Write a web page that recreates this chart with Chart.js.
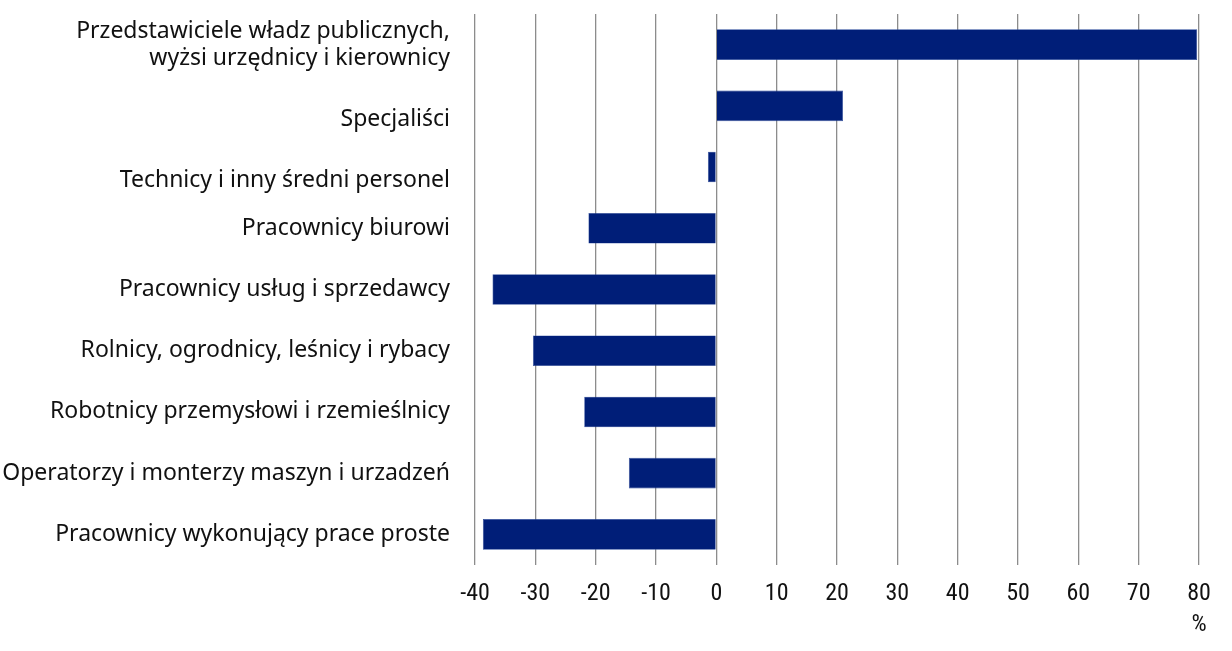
<!DOCTYPE html>
<html lang="pl">
<head>
    <meta charset="UTF-8">
    <title>Zmiana zatrudnienia wg grup zawodów</title>
    <script src="https://cdn.jsdelivr.net/npm/chart.js"></script>
    <style>
        html, body {
            margin: 0;
            padding: 0;
            background: #ffffff;
        }
    </style>
</head>
<body>

<canvas id="occChart" width="1232" height="651"></canvas>

<script>
    // Data
    const categories = [
        ['Przedstawiciele władz publicznych,', 'wyżsi urzędnicy i kierownicy'],
        'Specjaliści',
        'Technicy i inny średni personel',
        'Pracownicy biurowi',
        'Pracownicy usług i sprzedawcy',
        'Rolnicy, ogrodnicy, leśnicy i rybacy',
        'Robotnicy przemysłowi i rzemieślnicy',
        'Operatorzy i monterzy maszyn i urzadzeń',
        'Pracownicy wykonujący prace proste'
    ];
    const changeValues = [79.7, 21.0, -1.4, -21.2, -37.1, -30.4, -21.9, -14.5, -38.7];
    const xMin = -40;
    const xMax = 80;
    const xStep = 10;
    const unitLabel = '%';

    // in the original the 2nd and 3rd labels sit a bit below their bars
    const loweredLabels = [1, 2];

    const ctx = document.getElementById('occChart').getContext('2d');
    const occChart = new Chart(ctx, {
        type: 'bar',
        data: {
            labels: categories,
            datasets: [{
                label: 'Zmiana',
                data: changeValues,
                backgroundColor: '#001e78',
                borderColor: '#2a4a9a',
                borderWidth: 0.6,
                categoryPercentage: 0.5,
                barPercentage: 1.0
            }]
        },
        options: {
            indexAxis: 'y',
            responsive: false,
            animation: false,
            layout: {
                padding: { top: 14, right: 33, left: 0, bottom: 0 }
            },
            plugins: {
                legend: { display: false },
                tooltip: { enabled: false }
            },
            scales: {
                x: {
                    min: xMin,
                    max: xMax,
                    border: { display: false },
                    grid: {
                        color: '#8c8c8c',
                        lineWidth: 1.3,
                        drawTicks: false
                    },
                    ticks: {
                        stepSize: xStep,
                        padding: 13,
                        color: '#111111',
                        font: { family: '"Roboto Condensed", "Roboto", sans-serif', size: 24, lineHeight: '31px' },
                        callback: function(value) {
                            // unit sits under the last tick
                            return value === xMax ? [String(value), unitLabel] : String(value);
                        }
                    },
                    afterFit: function(scale) {
                        scale.height = 86;
                    }
                },
                y: {
                    border: { display: false },
                    grid: { display: false, drawTicks: false },
                    ticks: {
                        padding: 25,
                        color: '#111111',
                        font: { family: '"Noto Sans", sans-serif', size: 23, lineHeight: '27px' },
                        callback: function(value, index) {
                            const label = this.getLabelForValue(value);
                            return loweredLabels.includes(index) ? ['', label] : label;
                        }
                    },
                    afterFit: function(scale) {
                        scale.width = 475;
                        // the two-line first label should not push the plot down
                        scale.paddingTop = 0;
                        scale.paddingBottom = 0;
                    }
                }
            }
        }
    });
</script>

</body>
</html>
